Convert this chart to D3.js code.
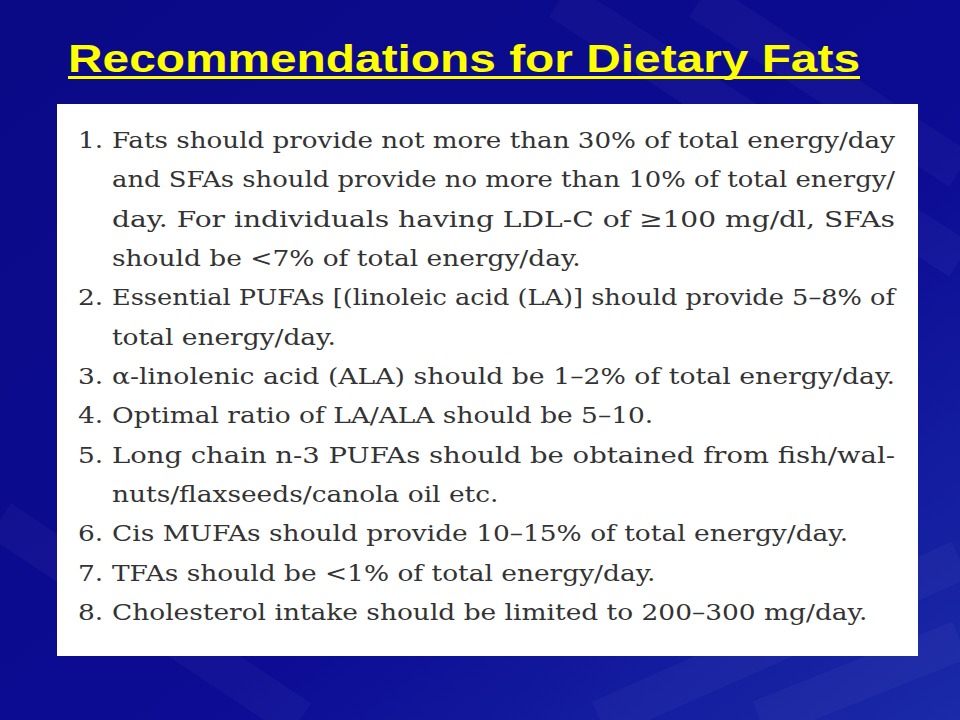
<!DOCTYPE html>
<html>
<head>
<style>
  body { margin: 0; background: #08087a; }
  svg { display: block; }
</style>
</head>
<body>
<svg width="960" height="720"></svg>
<script src="https://cdn.jsdelivr.net/npm/d3@7"></script>
<script>
// slide content
let title = "Recommendations for Dietary Fats"
let numbers = ["1.", "", "", "", "2.", "", "3.", "4.", "5.", "", "6.", "7.", "8."]
let lines = [
  "Fats should provide not more than 30% of total energy/day",
  "and SFAs should provide no more than 10% of total energy/",
  "day. For individuals having LDL-C of \u2265100 mg/dl, SFAs",
  "should be <7% of total energy/day.",
  "Essential PUFAs [(linoleic acid (LA)] should provide 5\u20138% of",
  "total energy/day.",
  "\u03b1-linolenic acid (ALA) should be 1\u20132% of total energy/day.",
  "Optimal ratio of LA/ALA should be 5\u201310.",
  "Long chain n-3 PUFAs should be obtained from fish/wal-",
  "nuts/flaxseeds/canola oil etc.",
  "Cis MUFAs should provide 10\u201315% of total energy/day.",
  "TFAs should be <1% of total energy/day.",
  "Cholesterol intake should be limited to 200\u2013300 mg/day."
]
let justified = [true, true, true, false, true, false, true, false, true, false, false, false, false]

let svg = d3.select("svg")
let defs = svg.append("defs")
let grad = defs.append("linearGradient").attr("id", "bg")
  .attr("x1", 0).attr("y1", 0).attr("x2", 1).attr("y2", 1)
grad.append("stop").attr("offset", 0).attr("stop-color", "#0a0a86")
grad.append("stop").attr("offset", 0.6).attr("stop-color", "#0c0c94")
grad.append("stop").attr("offset", 1).attr("stop-color", "#1a2aa8")

svg.append("rect").attr("width", 960).attr("height", 720).attr("fill", "url(#bg)")

// faint diagonal streaks in the background
let streaks = [[560, 0, 960, 260], [700, 0, 960, 170], [600, 720, 960, 560], [0, 520, 300, 720], [760, 720, 960, 640]]
svg.append("g").selectAll("line").data(streaks).join("line")
  .attr("x1", d => d[0]).attr("y1", d => d[1]).attr("x2", d => d[2]).attr("y2", d => d[3])
  .attr("stroke", "#ffffff").attr("stroke-opacity", 0.03).attr("stroke-width", 40)

svg.append("text")
  .attr("x", 68).attr("y", 72)
  .attr("fill", "#ffff00")
  .style("font-family", "'Liberation Sans', Arial, sans-serif")
  .style("font-weight", "bold").style("font-size", "38px")
  .attr("textLength", 792).attr("lengthAdjust", "spacingAndGlyphs")
  .text(title)
svg.append("rect").attr("x", 68).attr("y", 76).attr("width", 792).attr("height", 3).attr("fill", "#ffff00")

svg.append("rect").attr("x", 57).attr("y", 104).attr("width", 861).attr("height", 552).attr("fill", "#ffffff")

let y = d3.scaleLinear().domain([0, lines.length - 1]).range([148, 620])
let sx = 1.15

let g = svg.append("g")
  .attr("transform", `scale(${sx},1)`)
  .style("font-family", "'DejaVu Serif', serif")
  .style("font-size", "23px")
  .attr("fill", "#333333")

g.selectAll("text.num").data(numbers).join("text")
  .attr("class", "num")
  .attr("x", 78 / sx).attr("y", (d, i) => y(i))
  .text(d => d)

g.selectAll("text.line").data(lines).join("text")
  .attr("class", "line")
  .attr("x", 112 / sx).attr("y", (d, i) => y(i))
  .each(function(d, i) {
    let t = d3.select(this).text(d)
    if (justified[i]) t.attr("textLength", 783 / sx).attr("lengthAdjust", "spacingAndGlyphs")
  })
</script>
</body>
</html>
